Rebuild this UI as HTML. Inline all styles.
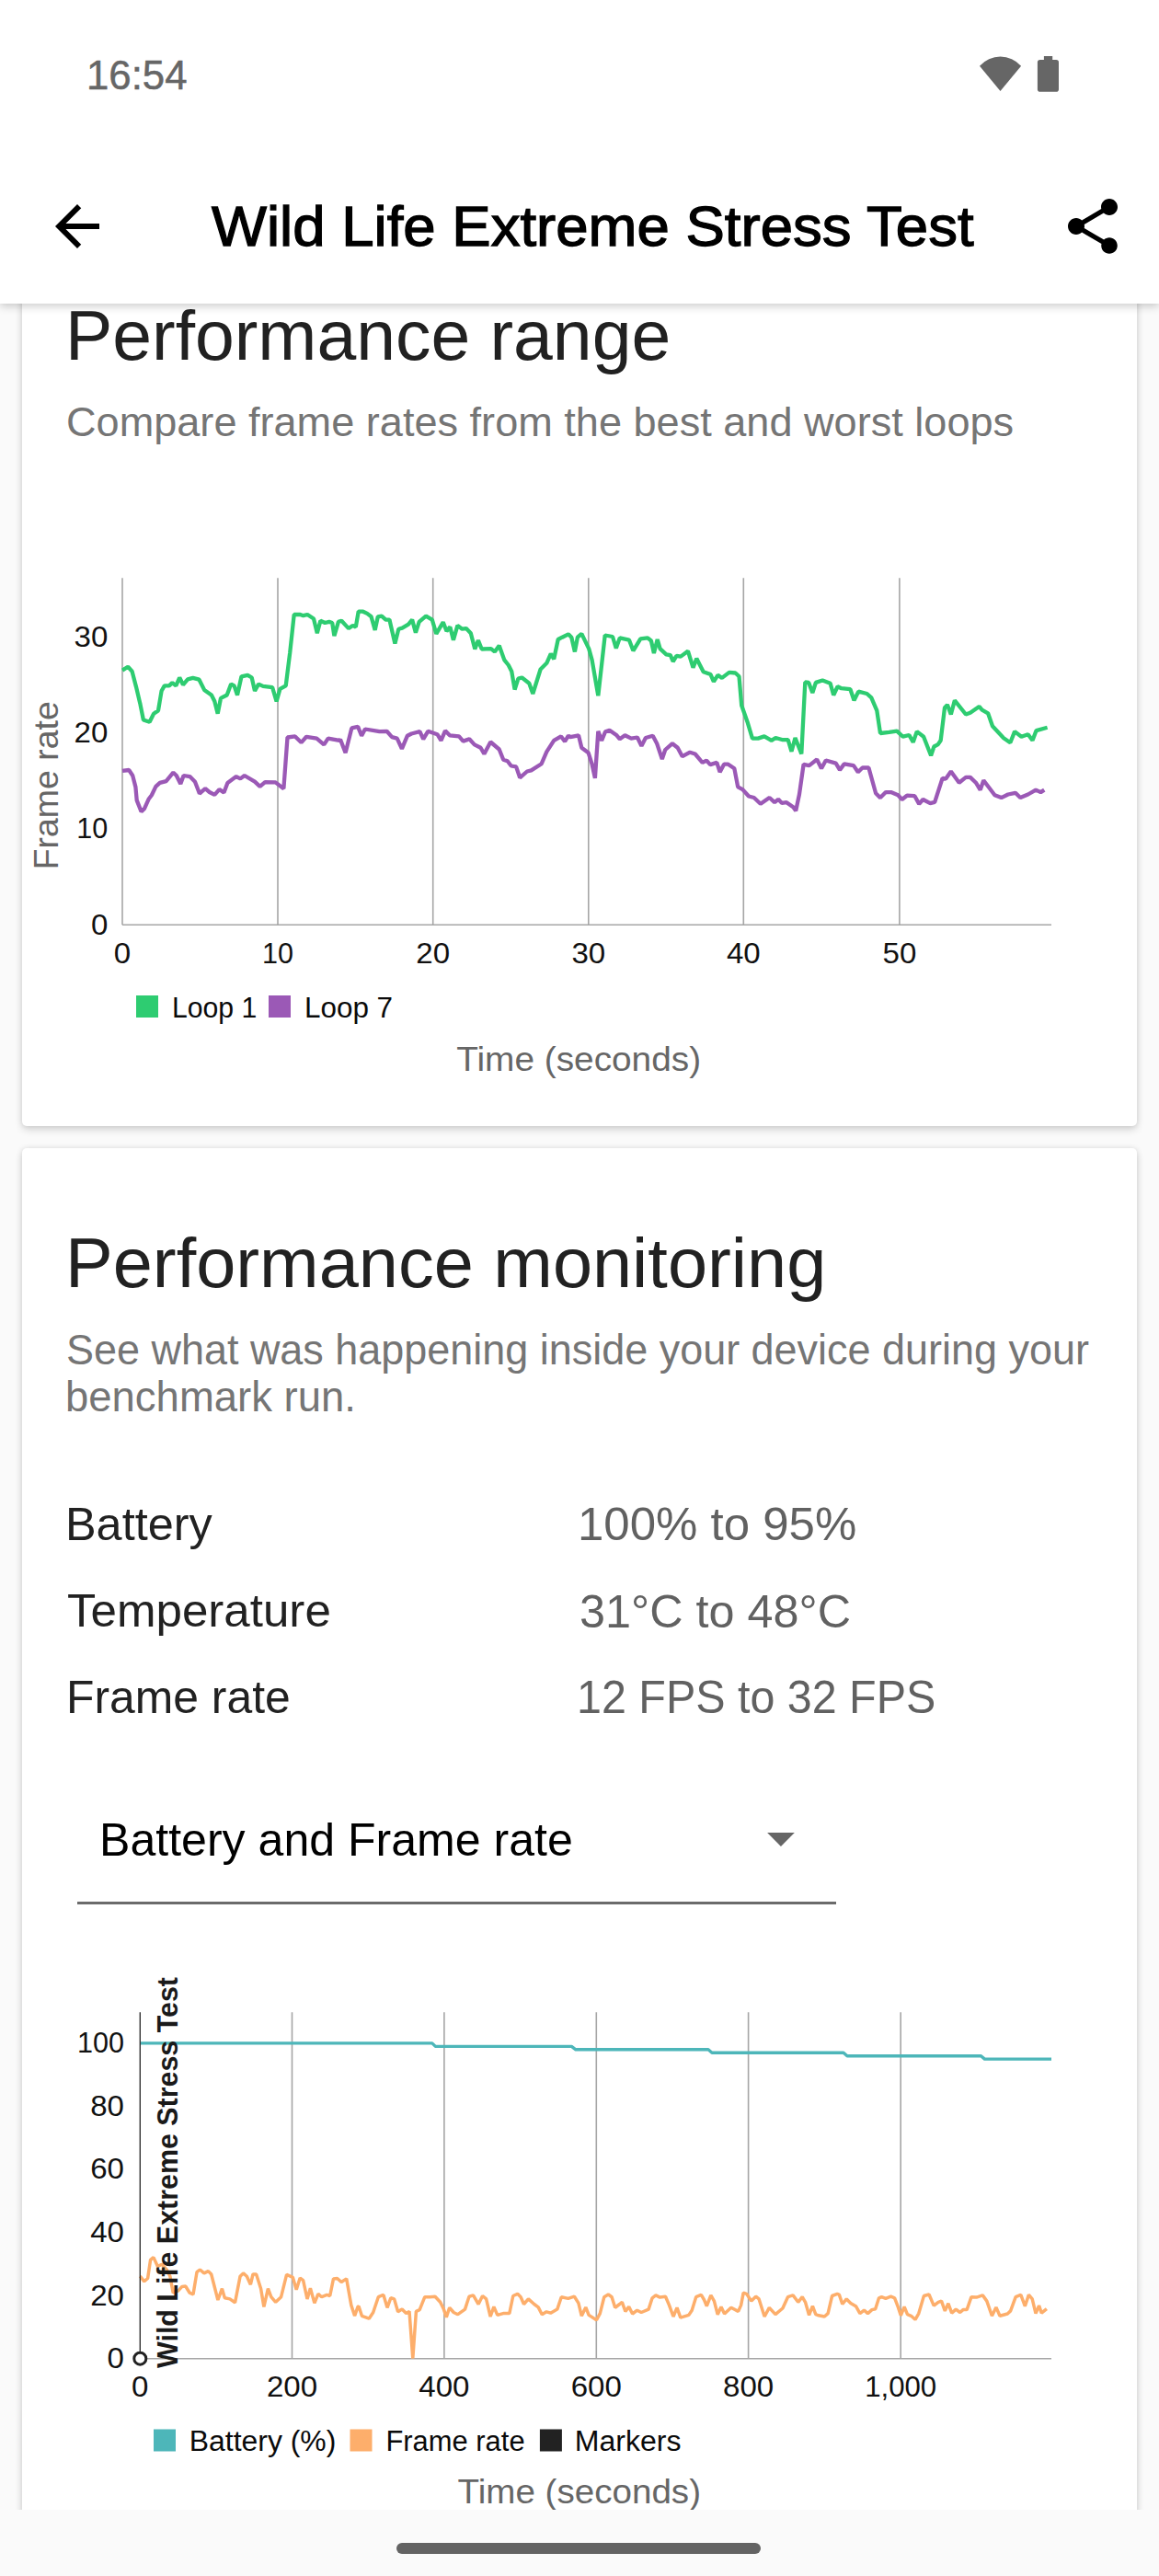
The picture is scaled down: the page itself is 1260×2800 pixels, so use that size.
<!DOCTYPE html>
<html lang="en"><head><meta charset="utf-8"><title>Wild Life Extreme Stress Test</title>
<style>
html,body{margin:0;padding:0}
body{width:1260px;height:2800px;position:relative;overflow:hidden;background:#fafafa;font-family:"Liberation Sans",sans-serif;color:#212121}
.abs{position:absolute;white-space:nowrap;line-height:1}
.card{position:absolute;left:24px;width:1212px;background:#fff;border-radius:5px;box-shadow:0 4px 8px rgba(0,0,0,.14),0 0 6px rgba(0,0,0,.10)}
#appbar{position:absolute;left:0;top:0;width:1260px;height:330px;background:#fff;box-shadow:0 3px 9px rgba(0,0,0,.20);z-index:5}
#nav{position:absolute;left:0;top:2728px;width:1260px;height:72px;background:#fafafa;z-index:6}
#pill{position:absolute;left:431px;top:36px;width:396px;height:12px;border-radius:6px;background:#636363}
h1,h2,p{margin:0;font-weight:normal}
svg text{font-family:"Liberation Sans",sans-serif}
.tick{fill:#111}
.axt{fill:#666}
.leg{fill:#0a0a0a}
</style></head><body>
<div id="c1" class="card" style="top:250px;height:974px"></div>
<div id="c2" class="card" style="top:1248px;height:1600px"></div>
<h2 id="t1" class="abs" style="left:71.19px;top:327.50px;font-size:75.60px;color:#212121;letter-spacing:0px;transform:scaleX(1.0171);transform-origin:0 0;">Performance range</h2>
<p id="s1" class="abs" style="left:72.14px;top:436.18px;font-size:45.15px;color:#757575;letter-spacing:0px;transform:scaleX(0.9990);transform-origin:0 0;">Compare frame rates from the best and worst loops</p>
<h2 id="t2" class="abs" style="left:71.15px;top:1335.90px;font-size:75.60px;color:#212121;letter-spacing:0px;transform:scaleX(1.0255);transform-origin:0 0;">Performance monitoring</h2>
<p id="s2a" class="abs" style="left:72.15px;top:1445.39px;font-size:45.73px;color:#757575;letter-spacing:0px;transform:scaleX(0.9831);transform-origin:0 0;">See what was happening inside your device during your</p>
<p id="s2b" class="abs" style="left:71.38px;top:1496.49px;font-size:45.73px;color:#757575;letter-spacing:0px;transform:scaleX(0.9945);transform-origin:0 0;">benchmark run.</p>
<div id="l1" class="abs" style="left:71.47px;top:1632.14px;font-size:49.45px;color:#212121;letter-spacing:0px;transform:scaleX(1.0194);transform-origin:0 0;">Battery</div><div id="v1" class="abs" style="left:628.22px;top:1632.14px;font-size:49.45px;color:#616161;letter-spacing:0px;transform:scaleX(1.0310);transform-origin:0 0;">100% to 95%</div>
<div id="l2" class="abs" style="left:72.86px;top:1725.74px;font-size:49.45px;color:#212121;letter-spacing:0px;transform:scaleX(1.0334);transform-origin:0 0;">Temperature</div><div id="v2" class="abs" style="left:630.29px;top:1726.54px;font-size:49.45px;color:#616161;letter-spacing:0px;transform:scaleX(1.0188);transform-origin:0 0;">31°C to 48°C</div>
<div id="l3" class="abs" style="left:71.53px;top:1819.74px;font-size:49.45px;color:#212121;letter-spacing:0px;transform:scaleX(1.0081);transform-origin:0 0;">Frame rate</div><div id="v3" class="abs" style="left:627.44px;top:1819.74px;font-size:49.45px;color:#616161;letter-spacing:0px;transform:scaleX(0.9795);transform-origin:0 0;">12 FPS to 32 FPS</div>
<div id="dd" class="abs" style="left:107.78px;top:1975.47px;font-size:49.53px;color:#000;letter-spacing:0px;transform:scaleX(1.0112);transform-origin:0 0;">Battery and Frame rate</div>
<svg class="abs" style="left:829px;top:1990px" width="40" height="20" viewBox="0 0 40 20"><path d="M5.100 2 L34.800 2 L19.950 16.900 Z" fill="#666"/></svg>
<div id="ddline" class="abs" style="left:84.3px;top:2067px;width:824.6px;height:3px;background:#6b6b6b"></div>

<svg id="charts" class="abs" style="left:0;top:0" width="1260" height="2800" viewBox="0 0 1260 2800">
<!-- chart 1 -->
<g stroke="#a6a6a6" stroke-width="1.6" fill="none">
<line x1="133" y1="628.3" x2="133" y2="1005.2"/><line x1="302" y1="628.3" x2="302" y2="1005.2"/><line x1="470.7" y1="628.3" x2="470.7" y2="1005.2"/><line x1="639.8" y1="628.3" x2="639.8" y2="1005.2"/><line x1="808.3" y1="628.3" x2="808.3" y2="1005.2"/><line x1="977.9" y1="628.3" x2="977.9" y2="1005.2"/>
<line x1="133" y1="1005.2" x2="1143" y2="1005.2"/>
</g>
<path d="M133.0 728.6 L139.1 724.8 L143.6 729.7 L148.0 746.6 L152.5 765.6 L155.9 782.5 L162.6 784.7 L167.1 775.7 L172.0 772.4 L175.6 751.0 L178.8 745.4 L183.9 745.4 L187.3 742.1 L191.3 745.4 L195.2 736.5 L199.0 744.3 L204.1 738.3 L209.7 736.9 L216.5 738.7 L222.1 749.9 L229.9 755.5 L233.3 762.3 L236.7 775.7 L240.0 758.9 L246.7 755.5 L251.2 743.6 L254.6 745.4 L258.0 755.5 L262.5 735.3 L269.2 733.8 L273.7 736.5 L277.0 751.0 L281.1 743.6 L286.0 745.9 L296.1 747.2 L300.6 762.3 L304.4 748.8 L310.7 745.4 L315.2 709.5 L319.7 668.0 L326.4 668.0 L329.7 669.2 L334.2 668.0 L341.0 672.5 L344.8 688.2 L348.4 674.8 L353.3 677.0 L357.8 675.9 L361.2 677.0 L363.4 691.1 L367.9 675.9 L371.3 674.8 L379.0 683.1 L383.5 679.9 L386.8 681.5 L389.7 664.7 L394.7 664.7 L399.2 666.9 L403.6 670.3 L407.7 684.9 L410.8 670.3 L414.9 669.6 L419.4 673.6 L423.4 673.6 L429.4 699.4 L433.3 683.7 L437.3 682.6 L444.0 678.6 L448.1 673.6 L451.9 687.6 L455.7 675.9 L463.1 669.6 L469.8 673.6 L474.3 688.9 L481.7 676.3 L485.5 686.0 L489.3 681.5 L492.9 695.6 L497.4 679.9 L502.4 683.7 L506.8 683.1 L511.8 688.2 L516.3 705.5 L519.9 696.1 L523.7 705.5 L533.8 705.1 L537.8 708.4 L542.7 701.7 L548.3 717.4 L552.8 723.0 L556.2 729.7 L559.6 749.5 L563.4 737.6 L567.4 736.5 L575.3 742.7 L579.3 754.0 L587.6 727.5 L594.3 720.8 L598.8 710.7 L602.2 716.3 L606.7 695.0 L611.2 692.7 L617.9 689.4 L621.3 692.7 L624.9 708.4 L627.9 692.7 L632.3 688.9 L640.2 705.1 L643.6 717.4 L650.3 756.2 L657.7 690.5 L666.0 692.0 L669.8 704.6 L673.8 693.4 L683.9 695.6 L688.4 707.3 L696.3 694.3 L704.1 693.4 L707.9 696.5 L710.9 710.0 L714.7 695.0 L717.6 705.1 L724.3 711.3 L728.8 712.2 L731.7 719.0 L735.5 712.9 L740.0 713.6 L747.9 707.7 L753.5 725.7 L757.3 715.8 L764.7 730.2 L772.5 733.1 L775.9 740.9 L780.4 733.8 L784.9 736.9 L792.7 730.9 L799.5 731.5 L803.5 735.3 L806.2 766.7 L812.9 785.8 L817.9 802.6 L824.1 802.6 L830.9 800.4 L838.7 804.9 L843.2 802.0 L851.1 804.2 L856.7 804.2 L860.5 816.8 L864.5 802.0 L871.3 819.5 L875.3 741.5 L879.2 741.9 L883.3 753.1 L886.9 741.9 L894.2 739.5 L902.6 742.7 L906.2 755.5 L910.6 746.3 L914.7 748.2 L924.4 749.2 L928.5 761.3 L933.3 751.6 L942.5 754.0 L947.3 758.4 L953.3 772.4 L957.0 797.0 L966.6 795.8 L975.1 794.6 L981.6 800.7 L988.4 799.0 L992.7 806.7 L996.8 795.1 L1004.1 800.7 L1012.1 821.2 L1015.4 811.5 L1019.8 809.1 L1022.7 804.8 L1027.0 769.2 L1029.9 766.1 L1033.8 776.5 L1037.9 761.3 L1050.0 776.5 L1054.8 774.8 L1064.5 768.0 L1067.6 771.7 L1074.1 775.3 L1079.0 789.3 L1091.1 802.3 L1098.3 807.2 L1103.1 795.1 L1110.4 800.7 L1117.6 798.2 L1122.5 804.8 L1126.6 794.1 L1138.6 790.8" fill="none" stroke="#2ecc71" stroke-width="4.3" stroke-linejoin="bevel" stroke-linecap="butt"/>
<path d="M133.0 837.9 L140.2 837.0 L144.2 843.0 L147.4 855.4 L148.7 869.9 L153.6 882.3 L157.0 878.9 L161.5 868.8 L164.9 864.3 L169.4 854.9 L173.8 850.9 L180.6 849.1 L188.4 839.7 L191.8 843.0 L196.3 852.0 L199.6 843.0 L206.4 844.1 L212.0 849.7 L216.9 862.5 L223.2 857.2 L227.7 861.0 L233.3 863.9 L238.4 858.1 L243.4 861.6 L247.4 850.9 L256.8 844.1 L261.3 846.4 L265.8 843.0 L277.0 849.7 L282.6 854.9 L288.2 850.2 L299.5 850.4 L308.4 857.2 L312.5 801.5 L320.8 800.4 L327.5 807.1 L333.1 800.8 L344.3 802.6 L352.2 809.4 L356.7 802.6 L369.0 804.9 L370.0 803.8 L375.6 818.3 L382.3 791.4 L389.1 789.9 L393.1 799.7 L396.9 792.5 L412.6 795.2 L420.5 794.8 L426.1 801.1 L431.7 802.6 L436.9 813.9 L442.9 799.7 L447.4 797.5 L456.4 795.2 L460.2 803.3 L465.3 794.8 L475.4 798.2 L479.5 804.9 L484.0 794.3 L488.9 799.3 L499.0 800.4 L503.5 805.6 L510.2 803.3 L515.8 809.4 L522.5 812.7 L526.4 819.5 L533.3 806.5 L542.7 814.5 L547.2 825.7 L551.7 827.3 L555.7 832.5 L561.1 833.4 L565.2 845.3 L573.0 838.5 L577.5 837.4 L588.7 830.2 L594.3 817.2 L602.2 804.9 L610.0 800.4 L614.1 806.0 L617.9 799.7 L620.0 801.1 L629.0 799.3 L632.3 812.7 L639.7 818.3 L643.6 830.7 L646.9 845.9 L650.3 794.8 L654.1 804.9 L658.1 795.2 L662.6 793.7 L670.5 799.3 L673.8 803.3 L679.4 799.3 L686.2 802.6 L692.9 801.5 L697.4 810.9 L701.9 802.0 L709.7 799.7 L714.2 808.2 L719.8 825.1 L723.2 815.0 L731.0 808.2 L736.7 812.7 L741.8 822.2 L750.1 817.7 L755.7 819.5 L763.6 828.9 L768.1 826.6 L772.1 831.1 L779.3 828.9 L782.6 839.2 L787.1 830.7 L791.6 830.7 L798.3 835.2 L802.2 855.4 L807.3 858.1 L814.0 865.5 L819.7 867.0 L826.8 873.8 L836.5 867.0 L842.1 872.2 L846.1 868.8 L849.9 872.9 L855.1 872.2 L862.3 877.3 L865.2 881.2 L869.0 863.2 L873.6 830.9 L879.7 832.1 L888.1 825.5 L893.0 835.2 L897.8 826.5 L908.7 829.6 L913.0 836.9 L917.8 830.4 L928.0 832.1 L932.8 839.3 L937.6 834.5 L944.4 834.5 L952.1 862.3 L957.0 867.1 L963.0 861.1 L968.6 861.1 L976.3 864.2 L980.6 869.0 L986.0 864.7 L994.4 865.2 L999.2 873.9 L1003.4 869.0 L1011.3 873.1 L1016.2 871.9 L1024.6 845.8 L1028.2 846.6 L1033.8 838.6 L1042.7 850.7 L1050.0 844.9 L1054.8 844.9 L1060.9 850.7 L1065.7 858.6 L1069.3 848.2 L1081.4 864.2 L1088.6 867.1 L1095.9 863.5 L1103.9 861.8 L1109.2 867.1 L1117.6 863.5 L1126.1 858.6 L1131.4 861.1 L1135.3 858.6" fill="none" stroke="#9b59b6" stroke-width="4.3" stroke-linejoin="bevel" stroke-linecap="butt"/>
<text class="tick" transform="translate(117.3,703.0) scale(1.05,1)" text-anchor="end" font-size="31.5">30</text><text class="tick" transform="translate(117.3,807.1999999999999) scale(1.05,1)" text-anchor="end" font-size="31.5">20</text><text class="tick" transform="translate(117.3,911.4) scale(0.97,1)" text-anchor="end" font-size="31.5">10</text><text class="tick" transform="translate(117.3,1015.6) scale(1.05,1)" text-anchor="end" font-size="31.5">0</text>
<text class="tick" transform="translate(133,1046.6) scale(1.05,1)" text-anchor="middle" font-size="31.5">0</text><text class="tick" transform="translate(302,1046.6) scale(0.97,1)" text-anchor="middle" font-size="31.5">10</text><text class="tick" transform="translate(470.7,1046.6) scale(1.05,1)" text-anchor="middle" font-size="31.5">20</text><text class="tick" transform="translate(639.8,1046.6) scale(1.05,1)" text-anchor="middle" font-size="31.5">30</text><text class="tick" transform="translate(808.3,1046.6) scale(1.05,1)" text-anchor="middle" font-size="31.5">40</text><text class="tick" transform="translate(977.9,1046.6) scale(1.05,1)" text-anchor="middle" font-size="31.5">50</text>
<text class="axt" transform="translate(63,853.8) rotate(-90)" text-anchor="middle" font-size="37" textLength="183" lengthAdjust="spacingAndGlyphs">Frame rate</text>
<rect x="148" y="1082" width="24" height="24" fill="#2ecc71"/><text class="leg" x="187.0" y="1106" font-size="31" textLength="92.3" lengthAdjust="spacingAndGlyphs" >Loop 1</text>
<rect x="292" y="1082" width="24" height="24" fill="#9b59b6"/><text class="leg" x="331.0" y="1106" font-size="31" textLength="96.1" lengthAdjust="spacingAndGlyphs" >Loop 7</text>
<text class="axt" x="496.2" y="1163.8" font-size="36.8" textLength="265.9" lengthAdjust="spacingAndGlyphs" >Time (seconds)</text>

<!-- chart 2 -->
<g stroke="#a6a6a6" stroke-width="1.6" fill="none">
<line x1="317.5" y1="2187.2" x2="317.5" y2="2563.7"/><line x1="482.9" y1="2187.2" x2="482.9" y2="2563.7"/><line x1="648.3" y1="2187.2" x2="648.3" y2="2563.7"/><line x1="813.6" y1="2187.2" x2="813.6" y2="2563.7"/><line x1="979.2" y1="2187.2" x2="979.2" y2="2563.7"/>
<line x1="152.3" y1="2563.7" x2="1143" y2="2563.7"/>
</g>
<path d="M152.3 2220.9 L469.8 2220.9 L473.4 2224.4 L621.4 2224.4 L625.9 2227.8 L770 2227.8 L774 2231.2 L917 2231.2 L921 2234.7 L1066.5 2234.7 L1070.5 2238.1 L1143 2238.1" fill="none" stroke="#4db6b9" stroke-width="3.4" stroke-linejoin="round"/>
<path d="M152.3 2474.2 L156.8 2479.8 L160.6 2476.5 L163.6 2456.3 L166.9 2453.6 L171.4 2463.5 L175.9 2461.2 L181.5 2467.5 L184.9 2474.2 L188.2 2492.2 L193.8 2489.9 L197.9 2485.4 L201.7 2485.0 L206.2 2492.2 L210.0 2494.0 L214.0 2469.7 L217.4 2467.0 L221.9 2470.9 L226.4 2468.6 L229.7 2472.0 L236.9 2500.0 L241.4 2487.7 L244.3 2497.8 L249.9 2498.9 L255.5 2502.9 L261.1 2474.2 L264.5 2470.9 L268.3 2474.2 L272.4 2483.2 L275.0 2472.0 L278.6 2472.0 L283.6 2487.7 L286.9 2507.4 L291.4 2487.7 L294.8 2496.7 L299.7 2502.3 L305.6 2496.7 L311.6 2472.4 L318.3 2475.3 L322.2 2488.8 L326.2 2476.0 L329.6 2478.7 L334.0 2498.9 L337.4 2487.2 L341.9 2503.4 L345.9 2493.3 L349.7 2496.7 L355.4 2494.4 L358.7 2495.5 L362.5 2476.9 L366.6 2476.5 L371.1 2480.5 L376.7 2476.9 L381.8 2505.6 L385.6 2517.3 L389.0 2507.4 L390.0 2506.7 L393.4 2517.3 L401.2 2520.2 L405.7 2513.5 L411.3 2496.7 L416.9 2494.4 L421.0 2508.3 L424.8 2497.8 L428.6 2498.9 L432.6 2512.8 L437.1 2510.1 L441.6 2514.6 L445.0 2512.4 L448.8 2563.5 L452.4 2512.4 L456.2 2510.6 L461.8 2496.7 L467.4 2496.7 L473.0 2496.2 L478.6 2502.3 L482.4 2510.1 L485.3 2518.6 L488.7 2508.3 L493.2 2513.5 L497.7 2515.7 L505.5 2510.1 L510.0 2496.2 L514.5 2494.9 L520.1 2504.5 L524.6 2495.5 L528.6 2498.9 L533.1 2518.0 L536.9 2507.4 L540.8 2516.4 L547.0 2514.6 L553.8 2514.6 L557.8 2495.5 L562.7 2493.3 L566.1 2496.7 L569.5 2504.5 L574.4 2498.9 L580.7 2504.5 L585.2 2507.9 L589.2 2515.7 L594.1 2512.8 L598.6 2514.2 L605.8 2510.1 L610.3 2496.7 L617.7 2498.4 L624.4 2496.2 L628.9 2503.4 L632.3 2517.3 L636.8 2507.9 L640.1 2516.4 L648.5 2521.8 L652.3 2514.6 L656.8 2496.7 L661.3 2494.0 L665.1 2496.7 L668.7 2508.3 L673.6 2504.5 L676.3 2502.3 L679.9 2512.4 L683.7 2507.4 L687.6 2515.0 L692.7 2511.2 L697.2 2513.5 L705.1 2510.1 L709.1 2497.8 L712.9 2494.9 L717.4 2497.1 L723.5 2496.2 L727.5 2505.6 L732.0 2518.0 L736.0 2508.3 L739.8 2519.1 L748.8 2516.4 L752.2 2511.2 L756.7 2496.7 L762.3 2494.4 L765.6 2500.0 L768.3 2506.7 L772.8 2494.9 L776.4 2501.1 L780.2 2515.7 L784.0 2507.4 L787.6 2515.0 L794.8 2508.3 L802.6 2512.4 L805.6 2505.6 L808.2 2492.2 L811.6 2493.3 L816.8 2501.1 L821.7 2496.2 L825.1 2498.9 L831.1 2518.0 L836.3 2508.3 L843.0 2515.7 L850.9 2509.0 L856.5 2496.7 L862.1 2494.9 L867.7 2502.3 L872.2 2496.7 L875.5 2502.3 L879.6 2516.4 L883.4 2506.7 L886.8 2515.7 L890.0 2516.8 L896.3 2518.0 L900.1 2514.6 L904.6 2495.5 L910.2 2493.3 L912.4 2494.4 L915.8 2504.5 L920.3 2498.9 L924.8 2503.4 L930.4 2506.7 L934.9 2514.6 L939.4 2511.2 L943.4 2514.6 L947.9 2510.6 L951.7 2509.7 L955.5 2497.8 L958.4 2496.7 L962.9 2498.4 L968.5 2496.2 L972.6 2497.8 L976.4 2507.9 L979.3 2516.8 L983.1 2507.4 L986.5 2515.7 L990.5 2517.3 L995.0 2521.3 L998.8 2514.6 L1004.4 2495.5 L1010.0 2494.0 L1015.2 2506.1 L1020.1 2502.3 L1023.5 2501.1 L1027.3 2511.9 L1030.9 2503.8 L1034.7 2514.2 L1039.2 2510.1 L1043.7 2513.5 L1047.0 2510.6 L1051.1 2510.6 L1056.0 2496.7 L1061.6 2497.1 L1068.3 2494.9 L1072.8 2501.1 L1078.4 2517.3 L1082.9 2507.9 L1087.0 2517.3 L1095.3 2515.0 L1098.6 2511.9 L1104.2 2496.7 L1109.8 2494.4 L1114.3 2506.7 L1118.4 2494.4 L1122.2 2498.9 L1126.0 2514.6 L1129.6 2506.1 L1132.3 2514.2 L1137.9 2509.7" fill="none" stroke="#fdae6b" stroke-width="3.5" stroke-linejoin="bevel"/>
<line x1="152.3" y1="2187.2" x2="152.3" y2="2563.7" stroke="#333" stroke-width="1.4"/>
<circle cx="152.3" cy="2563.7" r="6.5" fill="#fff" stroke="#222" stroke-width="3"/>
<text transform="translate(193,2574) rotate(-90)" font-size="31" font-weight="bold" fill="#1a1a1a" textLength="425" lengthAdjust="spacingAndGlyphs">Wild Life Extreme Stress Test</text>
<text class="tick" transform="translate(135.0,2231.1) scale(0.97,1)" text-anchor="end" font-size="31.5">100</text><text class="tick" transform="translate(135.0,2299.7000000000003) scale(1.05,1)" text-anchor="end" font-size="31.5">80</text><text class="tick" transform="translate(135.0,2368.3) scale(1.05,1)" text-anchor="end" font-size="31.5">60</text><text class="tick" transform="translate(135.0,2436.9) scale(1.05,1)" text-anchor="end" font-size="31.5">40</text><text class="tick" transform="translate(135.0,2505.5) scale(1.05,1)" text-anchor="end" font-size="31.5">20</text><text class="tick" transform="translate(135.0,2574.1) scale(1.05,1)" text-anchor="end" font-size="31.5">0</text>
<text class="tick" transform="translate(152.3,2605) scale(1.05,1)" text-anchor="middle" font-size="31.5">0</text><text class="tick" transform="translate(317.5,2605) scale(1.05,1)" text-anchor="middle" font-size="31.5">200</text><text class="tick" transform="translate(482.9,2605) scale(1.05,1)" text-anchor="middle" font-size="31.5">400</text><text class="tick" transform="translate(648.3,2605) scale(1.05,1)" text-anchor="middle" font-size="31.5">600</text><text class="tick" transform="translate(813.6,2605) scale(1.05,1)" text-anchor="middle" font-size="31.5">800</text><text class="tick" transform="translate(979.2,2605) scale(0.99,1)" text-anchor="middle" font-size="31.5">1,000</text>
<rect x="167" y="2640.500" width="24" height="24" fill="#4db6b9"/><text class="leg" x="205.8" y="2663.7" font-size="31" textLength="159.5" lengthAdjust="spacingAndGlyphs" >Battery (%)</text>
<rect x="380.5" y="2640.500" width="24" height="24" fill="#fdae6b"/><text class="leg" x="419.4" y="2663.7" font-size="31" textLength="151.2" lengthAdjust="spacingAndGlyphs" >Frame rate</text>
<rect x="586.9" y="2640.500" width="24" height="24" fill="#222"/><text class="leg" x="624.7" y="2663.7" font-size="31" textLength="115.8" lengthAdjust="spacingAndGlyphs" >Markers</text>
<text class="axt" x="497.6" y="2721.4" font-size="36.8" textLength="264.4" lengthAdjust="spacingAndGlyphs" >Time (seconds)</text>
</svg>

<div id="appbar">
<div id="time" class="abs" style="left:93.71px;top:61.02px;font-size:43.45px;color:#666;letter-spacing:0px;transform:scaleX(1.0074);transform-origin:0 0;-webkit-text-stroke:0.5px #666;">16:54</div>
<svg class="abs" style="left:1060px;top:55px" width="100" height="50" viewBox="0 0 100 50">
<path d="M5 16.700 A30.2 30.2 0 0 1 50.100 16.700 L27.500 44 Z" fill="#666"/>
<rect x="67.9" y="10" width="23.1" height="34.7" rx="2.800" fill="#666"/><rect x="74.9" y="6" width="9.300" height="6" fill="#666"/>
</svg>
<svg class="abs" style="left:48px;top:210px" width="72" height="72" viewBox="0 0 24 24"><path d="M20 11H7.83l5.59-5.590L12 4l-8 8 8 8 1.410-1.410L7.830 13H20v-2z" fill="#000"/></svg>
<h1 id="apptitle" class="abs" style="left:229.97px;top:214.57px;font-size:61.94px;color:#000;letter-spacing:0px;transform:scaleX(1.0258);transform-origin:0 0;-webkit-text-stroke:1.3px #000;">Wild Life Extreme Stress Test</h1>
<svg class="abs" style="left:1152px;top:210px" width="72" height="72" viewBox="0 0 24 24"><path d="M18 16.080c-.760 0-1.440.300-1.960.770L8.910 12.700c.050-.230.090-.460.090-.700s-.040-.470-.090-.700l7.050-4.110c.540.500 1.250.810 2.040.810 1.660 0 3-1.340 3-3s-1.340-3-3-3-3 1.340-3 3c0 .240.040.470.090.700L8.040 9.810C7.500 9.310 6.790 9 6 9c-1.660 0-3 1.340-3 3s1.340 3 3 3c.790 0 1.500-.310 2.040-.810l7.120 4.160c-.050.210-.080.430-.080.650 0 1.610 1.310 2.920 2.920 2.920 1.610 0 2.920-1.310 2.920-2.920s-1.310-2.920-2.920-2.920z" fill="#000"/></svg>
</div>
<div id="nav"><div id="pill"></div></div>
</body></html>
